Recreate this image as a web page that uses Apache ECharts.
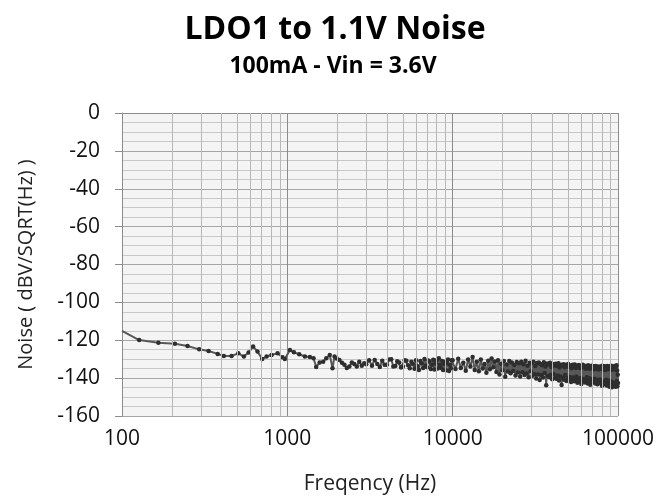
<!DOCTYPE html>
<html>
<head>
<meta charset="utf-8">
<script src="https://cdn.jsdelivr.net/npm/echarts@6/dist/echarts.min.js"></script>
<style>html,body{margin:0;padding:0;background:#fff}#c{width:671px;height:502px}</style>
</head>
<body>
<div id="c"></div>
<script>
const chartTitle = 'LDO1 to 1.1V Noise';
const chartSubtitle = '100mA - Vin = 3.6V';
const xAxisName = 'Freqency (Hz)';
const yAxisName = 'Noise ( dBV/SQRT(Hz) )';

// Low-frequency part (Hz, dBV/sqrt(Hz))
const lowFreq = [100,127,166,209,249,293,334,379,413,460,505,546,583,621,660,705,749,803,873,935,966,1036,1096,1180,1277,1369,1440,1495,1568,1647,1720,1806,1876,1929,1990,2067,2140,2214,2290,2372,2456,2541,2630,2722,2820,2917];
const lowNoise = [-115,-119.9,-121.3,-121.8,-123,-124.8,-125.7,-127.2,-128.3,-128.3,-126.9,-128.6,-126.5,-123.3,-126,-129.9,-128.6,-127.8,-126.9,-129,-129.9,-125.1,-126.4,-127.4,-128.6,-128.9,-129.5,-134.1,-131.8,-131.3,-129.5,-127.8,-134.8,-128.6,-129.6,-130.4,-131.9,-133,-134.6,-133.9,-131.7,-132.5,-133.9,-131.3,-133.4,-132.1];

// Mid part
const midFreq = [3000,3125,3250,3375,3500,3625,3750,3875,4000,4125,4250,4375,4500,4625,4750,4875,5000,5125,5250,5375,5500,5625,5750,5875,6000,6125,6250,6375,6500,6625,6750,6875,7000,7125,7250,7375,7500,7625,7750,7875,8000,8125,8250,8375,8500,8625,8750,8875,9000,9125,9250,9375,9500,9625,9750,9875];
const midNoise = [
-132.7,-130.6,-133.4,-130.4,-132.5,-134.1,-130.8,-132.9,-133.0,-130.2,
-130.0,-133.8,-133.6,-131.1,-131.8,-134.4,-133.9,-130.5,-130.8,-133.2,
-134.8,-131.4,-132.5,-135.1,-130.6,-133.7,-135.7,-131.0,-132.1,-134.6,
-129.9,-133.5,-134.3,-130.7,-131.2,-135.2,-133.0,-130.3,-135.4,-132.2,
-130.5,-134.9,-129.5,-133.1,-134.6,-131.0,-135.7,-132.4,-131.4,-135.8,
-132.1,-130.1,-136.3,-132.9,-134.8,-130.6];

// High-frequency dense part
const highFreq = [
10000,10400,10800,11200,11600,12000,12400,12800,13200,13600,
14000,14400,14800,15200,15600,16000,16400,16800,17200,17600,
18000,18400,18800,19200,19600,20000,20400,20800,21200,21600,
22000,22400,22800,23200,23600,24000,24400,24800,25200,25600,
26000,26400,26800,27200,27600,28000,28400,28800,29200,29600,
30000,30400,30800,31200,31600,32000,32400,32800,33200,33600,
34000,34400,34800,35200,35600,36000,36400,36800,37200,37600,
38000,38400,38800,39200,39600,40000,40400,40800,41200,41600,
42000,42400,42800,43200,43600,44000,44400,44800,45200,45600,
46000,46400,46800,47200,47600,48000,48400,48800,49200,49600,
50000,50400,50800,51200,51600,52000,52400,52800,53200,53600,
54000,54400,54800,55200,55600,56000,56400,56800,57200,57600,
58000,58400,58800,59200,59600,60000,60400,60800,61200,61600,
62000,62400,62800,63200,63600,64000,64400,64800,65200,65600,
66000,66400,66800,67200,67600,68000,68400,68800,69200,69600,
70000,70400,70800,71200,71600,72000,72400,72800,73200,73600,
74000,74400,74800,75200,75600,76000,76400,76800,77200,77600,
78000,78400,78800,79200,79600,80000,80400,80800,81200,81600,
82000,82400,82800,83200,83600,84000,84400,84800,85200,85600,
86000,86400,86800,87200,87600,88000,88400,88800,89200,89600,
90000,90400,90800,91200,91600,92000,92400,92800,93200,93600,
94000,94400,94800,95200,95600,96000,96400,96800,97200,97600,
98000,98400,98800,99200,99600,100000];
const highNoise = [
-130.5,-135.2,-129.8,-134.6,-131.9,-136.1,-130.2,-133.8,-128.9,-135.7,
-131.4,-136.4,-130.1,-134.9,-132.6,-137.2,-130.8,-135.3,-129.7,-134.2,
-131.2,-136.8,-130.6,-138.1,-132.4,-135.9,-131.0,-139.3,-132.8,-136.5,
-130.9,-137.4,-131.8,-136.2,-133.1,-138.6,-131.5,-137.0,-132.2,-139.1,
-131.3,-136.9,-132.7,-138.3,-130.8,-137.5,-133.4,-139.6,-131.9,-136.4,
-132.1,-138.7,-131.4,-137.9,-133.6,-140.2,-132.0,-138.1,-131.7,-141.0,
-132.5,-138.4,-133.2,-139.7,-131.6,-137.3,-133.9,-143.8,-132.3,-138.9,
-132.8,-139.5,-131.9,-138.2,-134.1,-140.6,-132.6,-137.8,-133.3,-139.9,
-132.4,-140.3,-133.7,-138.6,-132.1,-141.2,-134.4,-139.1,-133.0,-143.6,
-133.5,-139.8,-132.7,-140.9,-134.2,-138.4,-132.9,-141.5,-133.8,-140.0,
-132.6,-141.1,-134.0,-139.4,-133.3,-142.0,-134.8,-140.2,-132.9,-139.7,
-133.9,-141.6,-132.8,-140.5,-134.6,-139.2,-133.4,-142.4,-134.1,-140.8,
-133.1,-141.9,-134.7,-139.9,-133.6,-143.1,-134.3,-140.4,-132.9,-141.3,
-134.2,-140.7,-133.5,-142.3,-135.0,-141.0,-133.8,-139.6,-134.5,-142.8,
-133.2,-141.4,-135.1,-140.1,-133.9,-143.5,-134.6,-141.7,-133.4,-140.6,
-134.9,-142.1,-133.7,-141.2,-135.3,-140.3,-134.0,-142.9,-133.6,-141.8,
-135.2,-140.9,-134.1,-143.2,-133.8,-141.5,-135.5,-142.4,-134.3,-140.7,
-133.9,-142.6,-135.0,-141.1,-134.6,-144.0,-133.5,-141.9,-135.4,-142.2,
-134.2,-143.3,-133.7,-141.6,-135.7,-142.8,-134.0,-140.8,-135.1,-143.9,
-133.6,-142.0,-135.3,-143.6,-134.4,-141.3,-133.9,-144.5,-135.0,-142.5,
-134.7,-143.1,-133.4,-141.8,-135.6,-144.8,-134.1,-142.3,-133.8,-143.7,
-135.2,-142.7,-134.5,-144.2,-133.6,-143.0,-135.4,-144.6,-134.0,-142.9,
-133.2,-141.5,-136.0,-144.3,-138.2,-142.6];

// Minor vertical grid positions (log axis 2..9 per decade)
const minorFreqTicks = [200,300,400,500,600,700,800,900,2000,3000,4000,5000,6000,7000,8000,9000,20000,30000,40000,50000,60000,70000,80000,90000];

const freq = lowFreq.concat(midFreq, highFreq);
const noise = lowNoise.concat(midNoise, highNoise);
const points = freq.map((f, i) => i === 0 ? {value: [f, noise[i]], symbol: 'none'} : [f, noise[i]]);

const font = "'Open Sans', sans-serif";
const chart = echarts.init(document.getElementById('c'), null, {renderer: 'canvas'});
chart.setOption({
  animation: false,
  backgroundColor: '#ffffff',
  title: [
    {text: chartTitle, left: 330, top: 4, textAlign: 'center',
     textStyle: {fontFamily: font, fontWeight: 'bold', fontSize: 32, color: '#000', lineHeight: 42}},
    {text: chartSubtitle, left: 328, top: 47, textAlign: 'center',
     textStyle: {fontFamily: font, fontWeight: 'bold', fontSize: 23, color: '#000', lineHeight: 28}}
  ],
  grid: {left: 122, right: 53, top: 113, bottom: 86, show: true, backgroundColor: '#f4f4f4', borderWidth: 0},
  xAxis: {
    type: 'log', logBase: 10, min: 100, max: 100000,
    name: xAxisName, nameLocation: 'middle', nameGap: 58,
    nameTextStyle: {fontFamily: font, fontSize: 21, color: '#222'},
    axisLine: {show: true, lineStyle: {color: '#8c8c8c', width: 1}},
    axisTick: {show: false},
    axisLabel: {fontFamily: font, fontSize: 21, color: '#111', margin: 13, formatter: v => String(Math.round(v))},
    splitLine: {show: true, lineStyle: {color: '#8c8c8c', width: 1}},
    minorTick: {show: false}, minorSplitLine: {show: false}
  },
  yAxis: {
    type: 'value', min: -160, max: 0, interval: 20,
    name: yAxisName, nameLocation: 'middle', nameGap: 86, nameRotate: 90,
    nameTextStyle: {fontFamily: font, fontSize: 20, color: '#222'},
    axisLine: {show: true, lineStyle: {color: '#8c8c8c', width: 1}},
    axisTick: {show: true, inside: false, length: 7, lineStyle: {color: '#8c8c8c'}},
    axisLabel: {fontFamily: font, fontSize: 21, color: '#111', margin: 22},
    splitLine: {show: true, lineStyle: {color: '#a6a6a6', width: 1}},
    minorTick: {show: false, splitNumber: 4},
    minorSplitLine: {show: true, lineStyle: {color: '#c8c8c8', width: 1}}
  },
  series: [
    {
      type: 'line', data: [], z: 1, silent: true,
      markLine: {
        silent: true, symbol: ['none', 'none'], animation: false,
        label: {show: false},
        lineStyle: {color: '#b8b8b8', width: 1, type: 'solid'},
        emphasis: {disabled: true},
        data: minorFreqTicks.map(f => ({xAxis: f}))
      }
    },
    {
      type: 'line', data: points, z: 3,
      symbol: 'circle', symbolSize: 4.5, showSymbol: true, showAllSymbol: true,
      lineStyle: {color: '#585858', width: 2},
      itemStyle: {color: '#2e2e2e'}
    }
  ]
});
</script>
</body>
</html>
